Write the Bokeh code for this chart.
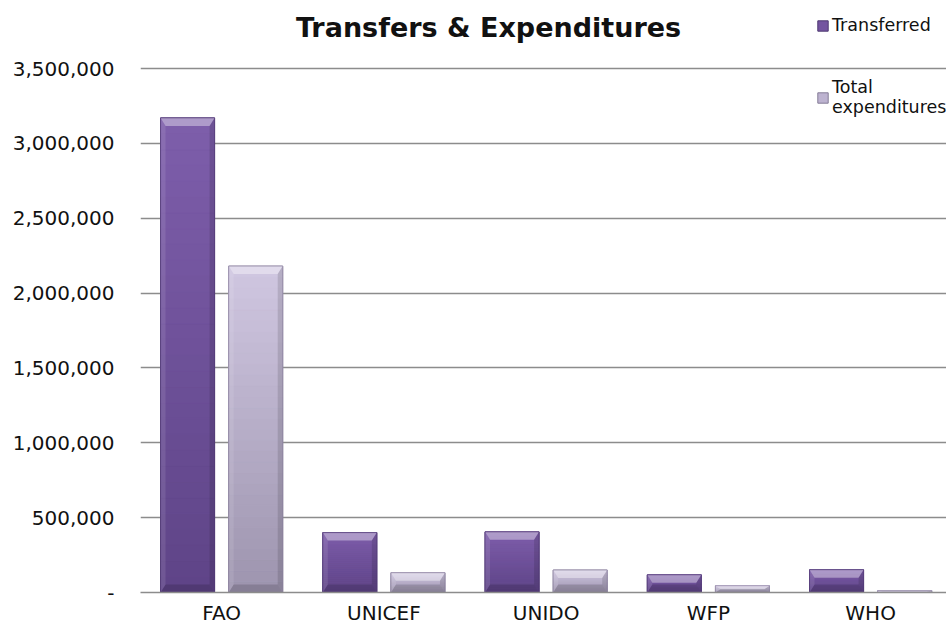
import numpy as np
from bokeh.plotting import figure
from bokeh.models import (Range1d, FixedTicker, NumeralTickFormatter, Legend,
                          LegendItem, Label, ColumnDataSource)
from bokeh.embed import file_html
from bokeh.resources import INLINE

# ---------------- data ----------------
categories = ["FAO", "UNICEF", "UNIDO", "WFP", "WHO"]
transferred = [3170000, 400000, 405000, 118000, 152000]
total_expenditures = [2180000, 132000, 150000, 45000, 13000]
series_names = ["Transferred", "Total\nexpenditures"]
y_ticks = [0, 500000, 1000000, 1500000, 2000000, 2500000, 3000000, 3500000]
title_text = "Transfers & Expenditures"

# ---------------- layout ----------------
W, H = 946, 635
BORDER_L, BORDER_B = 140, 43
FRAME_W, FRAME_H = W - BORDER_L, H - BORDER_B
CAT_PX = 162.25
X0 = -0.5
X1 = X0 + FRAME_W / CAT_PX
Y1 = y_ticks[-1] * FRAME_H / 524.0
FONT = "DejaVu Sans"

p = figure(width=W, height=H, output_backend="svg", toolbar_location=None,
           x_range=Range1d(X0, X1), y_range=Range1d(0, Y1),
           min_border_left=BORDER_L, min_border_right=0,
           min_border_top=0, min_border_bottom=BORDER_B)
p.outline_line_color = None
p.background_fill_color = "white"
p.border_fill_color = "white"

# axes
xs = np.arange(len(categories))
p.xaxis.ticker = FixedTicker(ticks=[float(i) for i in xs])
p.xaxis.major_label_overrides = {float(i): c for i, c in zip(xs, categories)}
p.xaxis.axis_line_color = "#8C8C8C"
p.xaxis.axis_line_width = 1.5
p.xaxis.major_tick_line_color = None
p.xaxis.minor_tick_line_color = None
p.xaxis.major_tick_out = 0
p.xaxis.major_tick_in = 0
p.xaxis.major_label_standoff = 8
p.xaxis.major_label_text_font = FONT
p.xaxis.major_label_text_font_size = "20px"
p.xaxis.major_label_text_color = "#111111"

p.yaxis.ticker = FixedTicker(ticks=y_ticks)
p.yaxis.formatter = NumeralTickFormatter(format="0,0")
p.yaxis.major_label_overrides = {0: "-"}
p.yaxis.axis_line_color = None
p.yaxis.major_tick_line_color = None
p.yaxis.minor_tick_line_color = None
p.yaxis.major_tick_out = 0
p.yaxis.major_tick_in = 0
p.yaxis.major_label_standoff = 26
p.yaxis.major_label_text_font = FONT
p.yaxis.major_label_text_font_size = "20px"
p.yaxis.major_label_text_color = "#111111"

p.xgrid.visible = False
p.ygrid.grid_line_color = "#8C8C8C"
p.ygrid.grid_line_width = 1.5

# ---------------- bars ----------------
OFF, BW = 0.21, 0.333
px_x = FRAME_W / (X1 - X0)
px_y = FRAME_H / Y1
BX, BY = 5 / px_x, 8 / px_y
N_BANDS = 30


def hex2rgb(h):
    h = h.lstrip("#")
    return [int(h[i:i + 2], 16) for i in (0, 2, 4)]


def mix(c1, c2, t):
    a, b = hex2rgb(c1), hex2rgb(c2)
    return "#%02x%02x%02x" % tuple(int(round(a[i] + (b[i] - a[i]) * t)) for i in range(3))


styles = [
    dict(offset=-OFF, top="#7E5EAB", bottom="#5E4487", mid="#7454A0", edge="#4E3872"),
    dict(offset=OFF, top="#D0C7E1", bottom="#9D94AE", mid="#BDB3D0", edge="#857C97"),
]

legend_items = []
for vals, name, st in zip([transferred, total_expenditures], series_names, styles):
    xc = xs + st["offset"]
    base = p.vbar(x=xc, top=vals, bottom=0, width=BW, fill_color=st["mid"],
                  line_color=st["edge"], line_width=1)
    legend_items.append(LegendItem(label=name, renderers=[base]))
    bx, bt, bb, bc = [], [], [], []
    for x, v in zip(xc, vals):
        for k in range(N_BANDS):
            bx.append(x)
            bb.append(v * k / N_BANDS)
            bt.append(v * (k + 1) / N_BANDS)
            bc.append(mix(st["bottom"], st["top"], (k + 0.5) / N_BANDS))
    p.vbar(x="x", top="t", bottom="b", width=BW, fill_color="c", line_color="c",
           line_width=0.6, source=ColumnDataSource(dict(x=bx, t=bt, b=bb, c=bc)))
    tops_x, tops_y, bots_x, bots_y = [], [], [], []
    lefts_x, lefts_y, rights_x, rights_y = [], [], [], []
    for x, v in zip(xc, vals):
        x0, x1 = x - BW / 2, x + BW / 2
        by = min(BY, v / 2)
        tops_x.append([x0, x1, x1 - BX, x0 + BX])
        tops_y.append([v, v, v - by, v - by])
        bots_x.append([x0, x1, x1 - BX, x0 + BX])
        bots_y.append([0, 0, by, by])
        lefts_x.append([x0, x0, x0 + BX, x0 + BX])
        lefts_y.append([0, v, v - by, by])
        rights_x.append([x1, x1, x1 - BX, x1 - BX])
        rights_y.append([0, v, v - by, by])
    p.patches(tops_x, tops_y, fill_color="white", fill_alpha=0.38, line_color=None)
    p.patches(bots_x, bots_y, fill_color="black", fill_alpha=0.15, line_color=None)
    p.patches(lefts_x, lefts_y, fill_color="white", fill_alpha=0.10, line_color=None)
    p.patches(rights_x, rights_y, fill_color="black", fill_alpha=0.12, line_color=None)
    p.vbar(x=xc, top=vals, bottom=0, width=BW, fill_color=None,
           line_color=st["edge"], line_alpha=0.6, line_width=1)

# legend: bottom-left corner given in px from the frame's bottom-left
legend = Legend(items=legend_items, location=(676, FRAME_H - 117), margin=0, padding=2,
                spacing=42, glyph_width=13, glyph_height=13, label_standoff=3,
                label_height=20, label_text_font=FONT, label_text_font_size="17.5px",
                label_text_color="#111111", label_text_line_height=1.3,
                background_fill_alpha=0, border_line_color=None)
p.add_layout(legend)

title = Label(x=X0 + (488 - BORDER_L) / CAT_PX, y=Y1 * (FRAME_H - 27) / FRAME_H,
              text=title_text, text_align="center", text_baseline="alphabetic",
              text_font=FONT, text_font_style="bold", text_font_size="27px",
              text_color="#111111")
p.add_layout(title)

open("out.html", "w").write(file_html(p, INLINE))
